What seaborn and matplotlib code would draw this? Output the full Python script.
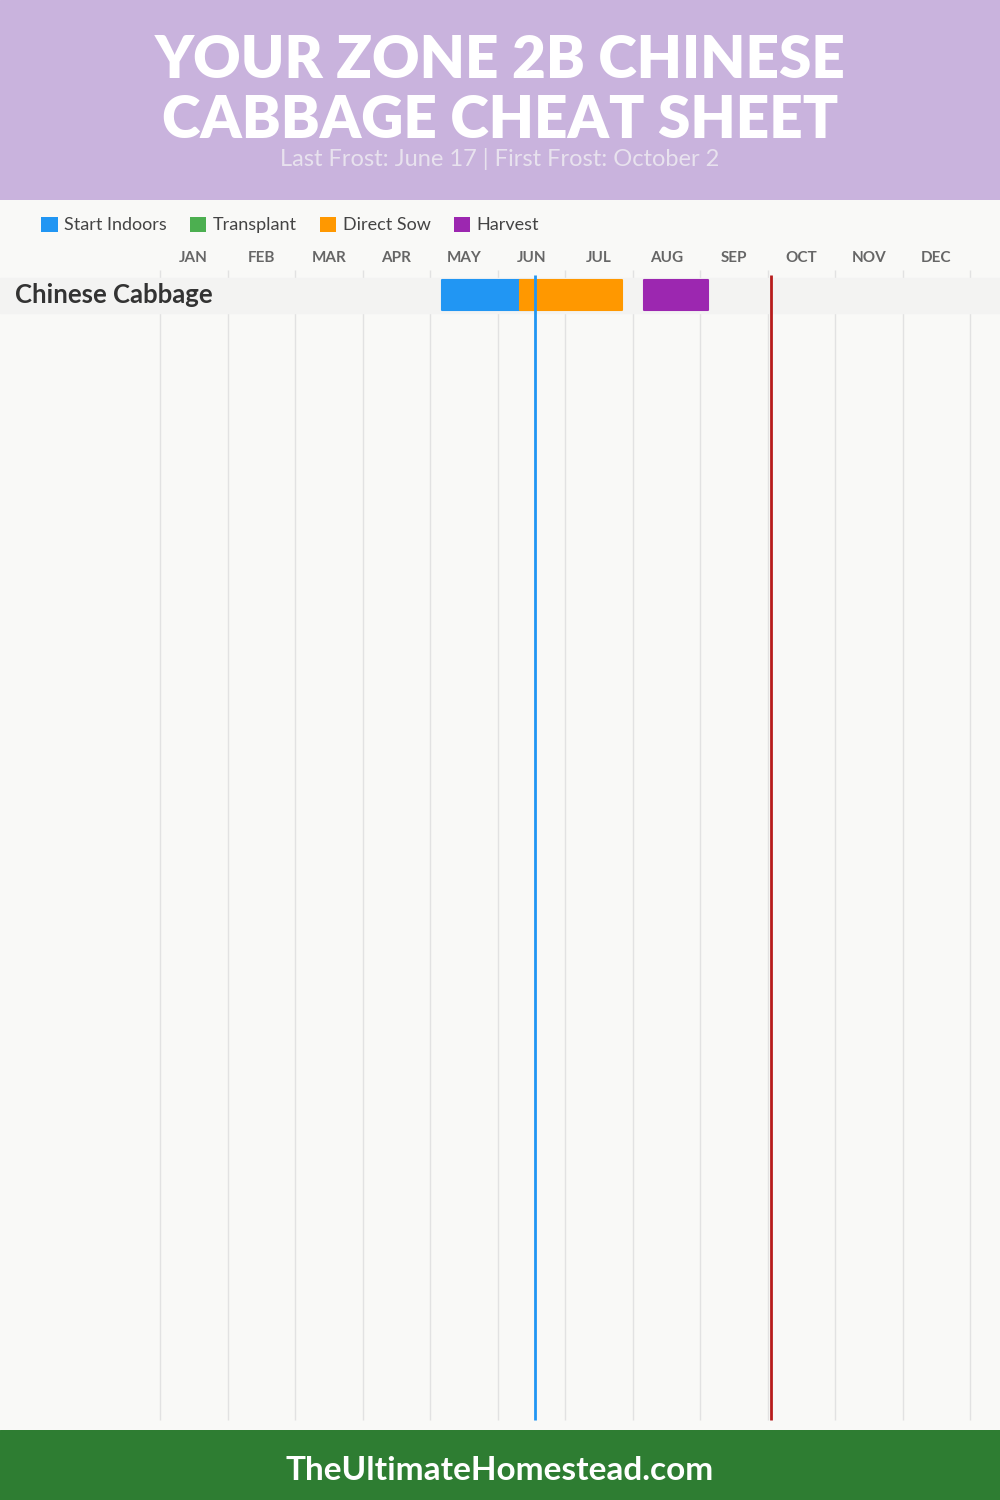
import matplotlib.pyplot as plt
import seaborn as sns
from matplotlib.patches import Patch

# data (months as fractional positions, 0 = Jan 1)
months = ["JAN", "FEB", "MAR", "APR", "MAY", "JUN", "JUL", "AUG", "SEP", "OCT", "NOV", "DEC"]
crops = ["Chinese Cabbage"]
stages = ["Start Indoors", "Transplant", "Direct Sow", "Harvest"]
stage_colors = ["#2196F3", "#4CAF50", "#FF9800", "#9C27B0"]
start_indoors = [(4.18, 5.57)]
transplant = [None]
direct_sow = [(5.33, 6.84)]
harvest = [(7.17, 8.12)]
last_frost = 5.55   # June 17
first_frost = 9.05  # October 2

title_lines = ["YOUR ZONE 2B CHINESE", "CABBAGE CHEAT SHEET"]
subtitle = "Last Frost: June 17 | First Frost: October 2"
footer = "TheUltimateHomestead.com"

BG = "#F9F9F7"
HEADER = "#C9B3DD"
FOOTER = "#2E7D32"


def draw():
    sns.set_theme(style="white")
    plt.rcParams["font.family"] = ["Lato", "DejaVu Sans"]

    fig = plt.figure(figsize=(10, 15), dpi=100, facecolor=BG)

    # header band
    hd = fig.add_axes([0, 1300 / 1500, 1, 200 / 1500])
    hd.set_xlim(0, 1000)
    hd.set_ylim(200, 0)
    hd.axis("off")
    hd.add_patch(plt.Rectangle((0, 0), 1000, 200, color=HEADER, zorder=0))
    hd.text(500, 61, title_lines[0], color="white", fontsize=42, fontweight="heavy",
            ha="center", va="center")
    hd.text(500, 121, title_lines[1], color="white", fontsize=42, fontweight="heavy",
            ha="center", va="center")
    hd.text(500, 159, subtitle, color="#E8E2EE", fontsize=17, fontweight="normal",
            ha="center", va="center")

    # footer band
    ft = fig.add_axes([0, 0, 1, 70 / 1500])
    ft.set_xlim(0, 1000)
    ft.set_ylim(70, 0)
    ft.axis("off")
    ft.add_patch(plt.Rectangle((0, 0), 1000, 70, color=FOOTER, zorder=0))
    ft.text(500, 41, footer, color="white", fontsize=24, fontweight="bold",
            ha="center", va="center")

    # main chart: x in months, y in rows (row pitch 35 px)
    ax = fig.add_axes([0, 70 / 1500, 1, 1230 / 1500])
    ax.set_facecolor(BG)
    ax.set_xlim(-160 / 67.5, 840 / 67.5)
    ax.set_ylim((1430 - 295) / 35, (200 - 295) / 35)
    ax.axis("off")

    top_grid = (270 - 295) / 35
    bottom = (1420 - 295) / 35
    ax.vlines(range(13), top_grid, bottom, color="#E2E2E2", lw=1, zorder=1)

    for i, m in enumerate(months):
        ax.text(i + 0.5, (258 - 295) / 35, m, color="#666666", fontsize=11,
                fontweight="bold", ha="center", va="center")

    for r, crop in enumerate(crops):
        ax.axhspan(r - 0.5, r + 0.5, color="#F3F3F2", zorder=2)
        ax.text(-145 / 67.5, r, crop, color="#333333", fontsize=18.5,
                fontweight="bold", ha="left", va="center", zorder=5)
        for spans, color in zip([start_indoors, transplant, direct_sow, harvest], stage_colors):
            s = spans[r]
            if s is None:
                continue
            ax.barh(r, s[1] - s[0], left=s[0], height=0.86, color=color,
                    edgecolor=color, lw=1.5, joinstyle="round", zorder=3)

    frost_top = (275 - 295) / 35
    ax.vlines(last_frost, frost_top, bottom, color="#2196F3", lw=2, zorder=4)
    ax.vlines(first_frost, frost_top, bottom, color="#B71C1C", lw=2, zorder=4)

    handles = [Patch(facecolor=c, edgecolor="none", label=s) for s, c in zip(stages, stage_colors)]
    leg = ax.legend(handles=handles, ncol=4, frameon=False,
                    loc="center left", bbox_to_anchor=(25 / 1000, 1 - 25 / 1230),
                    handlelength=0.9, handleheight=0.9, handletextpad=0.35,
                    columnspacing=1.3, fontsize=13)
    for t in leg.get_texts():
        t.set_color("#444444")

    fig.savefig("out.png", dpi=100, facecolor=BG)


if __name__ == "__main__":
    draw()
